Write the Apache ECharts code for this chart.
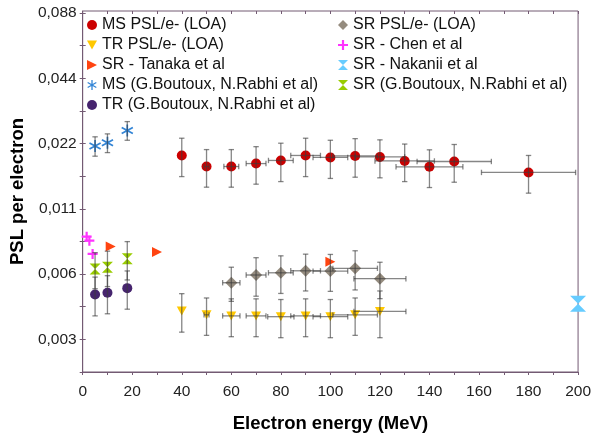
<!DOCTYPE html>
<html><head><meta charset="utf-8">
<script src="https://cdn.jsdelivr.net/npm/echarts@6/dist/echarts.min.js"></script>
<style>html,body{margin:0;padding:0;background:#fff}#c{width:594px;height:438px}</style>
</head><body><div id="c"></div>
<script>
// ---- data ----
const msLoaX    = [40, 50, 60, 70, 80, 90, 100, 110, 120, 130, 140, 150, 180];
const msLoaY    = [0.0194, 0.01725, 0.01725, 0.0178, 0.0184, 0.0194, 0.0190, 0.0193, 0.0191, 0.0183, 0.0172, 0.0182, 0.0162];
const msLoaXErr = [0, 1, 3, 4, 5, 6, 7, 9, 10, 12, 13.5, 15, 19];
const msLoaYErr = [0.0039, 0.0034, 0.0034, 0.0035, 0.0037, 0.0039, 0.0038, 0.0039, 0.0038, 0.0036, 0.0034, 0.0036, 0.0032];

const srLoaX    = [60, 70, 80, 90, 100, 110, 120];
const srLoaY    = [0.00502, 0.00545, 0.00558, 0.0057, 0.00568, 0.00585, 0.00524];
const srLoaXErr = [3.5, 4, 5, 6, 7, 9, 10.5];
const srLoaYErr = [0.0009, 0.0011, 0.0011, 0.0011, 0.0011, 0.0012, 0.0010];

const trLoaX    = [40, 50, 60, 70, 80, 90, 100, 110, 120];
const trLoaY    = [0.00372, 0.00357, 0.00353, 0.00353, 0.0035, 0.00353, 0.0035, 0.00357, 0.0037];
const trLoaXErr = [0, 1, 3.5, 4, 5.3, 6, 7, 9, 10.5];
const trLoaYErr = [0.00075, 0.0007, 0.0007, 0.0007, 0.0007, 0.0007, 0.0007, 0.0007, 0.0009];

const chenX = [1.6, 2.7, 4.0];
const chenY = [0.00819, 0.00785, 0.00682];

const tanakaX = [11.3, 30, 100];
const tanakaY = [0.00737, 0.00695, 0.00628];

const nakaniiX = [200];
const nakaniiY = [0.00402];

const msBoutX    = [5, 10, 18];
const msBoutY    = [0.02145, 0.0222, 0.0253];
const msBoutYErr = [0.0022, 0.0022, 0.0025];

const srBoutX    = [5, 10, 18];
const srBoutY    = [0.00581, 0.00592, 0.00647];
const srBoutYErr = [0.0011, 0.0011, 0.0013];

const trBoutX    = [5, 10, 18];
const trBoutY    = [0.00443, 0.00451, 0.00474];
const trBoutYErr = [0.0009, 0.0009, 0.00095];

const yTickValues = [0.00275, 0.0055, 0.011, 0.022, 0.044, 0.088];
const yTickLabels = ['0,003', '0,006', '0,011', '0,022', '0,044', '0,088'];
const yMinorTicks = [0.001945, 0.00389, 0.00778, 0.01556, 0.03111, 0.06223];
const xTickLabels = [0, 20, 40, 60, 80, 100, 120, 140, 160, 180, 200];

const names = {
  msLoa: 'MS PSL/e- (LOA)', trLoa: 'TR PSL/e- (LOA)', tanaka: 'SR - Tanaka et al',
  msBout: 'MS (G.Boutoux, N.Rabhi et al)', trBout: 'TR (G.Boutoux, N.Rabhi et al)',
  srLoa: 'SR PSL/e- (LOA)', chen: 'SR - Chen et al', nakanii: 'SR - Nakanii et al',
  srBout: 'SR (G.Boutoux, N.Rabhi et al)'
};

// ---- helpers ----
const FONT = 'Liberation Sans, Arial, sans-serif';
const zip = (xs, ys) => xs.map((x, i) => [x, ys[i]]);
const errRows = (xs, ys, xe, ye) => xs.map((x, i) => [x, ys[i], xe ? xe[i] : 0, ye ? ye[i] : 0]);
const errData = [].concat(
  errRows(msLoaX, msLoaY, msLoaXErr, msLoaYErr),
  errRows(srLoaX, srLoaY, srLoaXErr, srLoaYErr),
  errRows(trLoaX, trLoaY, trLoaXErr, trLoaYErr),
  errRows(msBoutX, msBoutY, null, msBoutYErr),
  errRows(srBoutX, srBoutY, null, srBoutYErr),
  errRows(trBoutX, trBoutY, null, trBoutYErr)
);

const sym = {
  asterisk: 'path://M-1.3,-10L1.3,-10L1.3,10L-1.3,10Z M8.01,-6.126L9.31,-3.874L-8.01,6.126L-9.31,3.874Z M-9.31,-3.874L-8.01,-6.126L9.31,3.874L8.01,6.126Z',
  plus: 'path://M-1.1,-5L1.1,-5L1.1,-1.1L5,-1.1L5,1.1L1.1,1.1L1.1,5L-1.1,5L-1.1,1.1L-5,1.1L-5,-1.1L-1.1,-1.1Z',
  hourglass: 'path://M0,0L10,0L5,5Z M5,5L10,10L0,10Z',
  right: 'path://M0,0L10,5L0,10Z',
  down: 'path://M0,0L10,0L5,9Z'
};

function scatter(name, xs, ys, symbol, size, color) {
  return { name, type: 'scatter', data: zip(xs, ys), symbol, symbolSize: size,
    itemStyle: { color, opacity: 1 }, z: 2, emphasis: { disabled: true } };
}

const axisColor = '#735a73';
const yLabelFmt = v => {
  const i = yTickValues.findIndex(t => Math.abs(t - v) / t < 1e-6);
  return i >= 0 ? yTickLabels[i] : '';
};
const xLabelFmt = v => (xTickLabels.indexOf(v) >= 0 ? String(v) : '');

const yBase = { type: 'log', logBase: 2, min: 0.001945, max: 0.09, splitLine: { show: false } };
const xBase = { type: 'value', min: 0, max: 200, interval: 10, splitLine: { show: false } };

const legendText = { fontSize: 16, lineHeight: 20, color: '#111', fontFamily: FONT };

const option = {
  backgroundColor: '#fff',
  animation: false,
  textStyle: { fontFamily: FONT },
  grid: { left: 80, right: 12, top: 11, bottom: 65, show: true, borderColor: axisColor, borderWidth: 1 },
  xAxis: [
    Object.assign({}, xBase, {
      name: 'Electron energy (MeV)', nameLocation: 'middle', nameGap: 42,
      nameTextStyle: { fontSize: 18.5, fontWeight: 'bold', color: '#000', fontFamily: FONT },
      axisLine: { lineStyle: { color: axisColor, width: 1 } },
      axisTick: { inside: false, length: 3, lineStyle: { color: axisColor } },
      axisLabel: { formatter: xLabelFmt, fontSize: 15.5, color: '#222', margin: 12, fontFamily: FONT }
    }),
    Object.assign({}, xBase, {
      axisLine: { show: false },
      axisTick: { inside: true, length: 3, lineStyle: { color: axisColor } },
      axisLabel: { show: false }
    })
  ],
  yAxis: [
    Object.assign({}, yBase, {
      name: 'PSL per electron', nameLocation: 'middle', nameGap: 53, nameRotate: 90,
      nameTextStyle: { fontSize: 18.5, fontWeight: 'bold', color: '#000', fontFamily: FONT },
      axisLine: { show: true, lineStyle: { color: axisColor, width: 1 } },
      axisTick: { show: true, inside: false, length: 3, customValues: yTickValues.concat(yMinorTicks), lineStyle: { color: axisColor } },
      axisLabel: { customValues: yTickValues, formatter: yLabelFmt, fontSize: 15.5, color: '#222', margin: 6, fontFamily: FONT }
    }),
    Object.assign({}, yBase, {
      position: 'left',
      axisLine: { show: false },
      axisTick: { show: true, inside: true, length: 3, customValues: yTickValues.concat(yMinorTicks), lineStyle: { color: axisColor } },
      axisLabel: { show: false }
    })
  ],
  legend: [
    { left: 82, top: 10, orient: 'vertical', itemWidth: 10, itemHeight: 10, itemGap: 0,
      textStyle: legendText,
      data: [names.msLoa, names.trLoa, names.tanaka, names.msBout, names.trBout] },
    { left: 333, top: 10, orient: 'vertical', itemWidth: 10, itemHeight: 10, itemGap: 0,
      textStyle: legendText,
      data: [names.srLoa, names.chen, names.nakanii, names.srBout] }
  ],
  series: [
    scatter(names.msLoa, msLoaX, msLoaY, 'circle', 10, '#cc0000'),
    scatter(names.srLoa, srLoaX, srLoaY, 'diamond', 12, '#958c7f'),
    scatter(names.trLoa, trLoaX, trLoaY, sym.down, [10, 9], '#ffc800'),
    scatter(names.chen, chenX, chenY, sym.plus, 10, '#ff33ff'),
    scatter(names.tanaka, tanakaX, tanakaY, sym.right, 10, '#ff4411'),
    scatter(names.nakanii, nakaniiX, nakaniiY, sym.hourglass, [16, 16], '#66ccff'),
    scatter(names.msBout, msBoutX, msBoutY, sym.asterisk, 12, '#3385d6'),
    scatter(names.srBout, srBoutX, srBoutY, sym.hourglass, [11, 11], '#99cc00'),
    scatter(names.trBout, trBoutX, trBoutY, 'circle', 10, '#46246e'),
    {
      name: 'errors', type: 'custom', z: 3, silent: true,
      data: errData, encode: { x: 0, y: 1 },
      renderItem: function (params, api) {
        const x = api.value(0), y = api.value(1), xe = api.value(2), ye = api.value(3);
        const st = { stroke: 'rgba(60,60,60,0.62)', lineWidth: 1.3, fill: 'none' };
        const cap = 2.7;
        const ch = [];
        const L = (x1, y1, x2, y2) => ch.push({ type: 'line', shape: { x1, y1, x2, y2 }, style: st });
        if (ye > 0) {
          const t = api.coord([x, y + ye]), b = api.coord([x, y - ye]);
          L(t[0], t[1], b[0], b[1]); L(t[0] - cap, t[1], t[0] + cap, t[1]); L(b[0] - cap, b[1], b[0] + cap, b[1]);
        }
        if (xe > 0) {
          const l = api.coord([x - xe, y]), r = api.coord([x + xe, y]);
          L(l[0], l[1], r[0], r[1]); L(l[0], l[1] - cap, l[0], l[1] + cap); L(r[0], r[1] - cap, r[0], r[1] + cap);
        }
        return { type: 'group', children: ch };
      }
    }
  ]
};

const chart = echarts.init(document.getElementById('c'), null, { renderer: 'canvas' });
chart.setOption(option);
</script>
</body></html>
